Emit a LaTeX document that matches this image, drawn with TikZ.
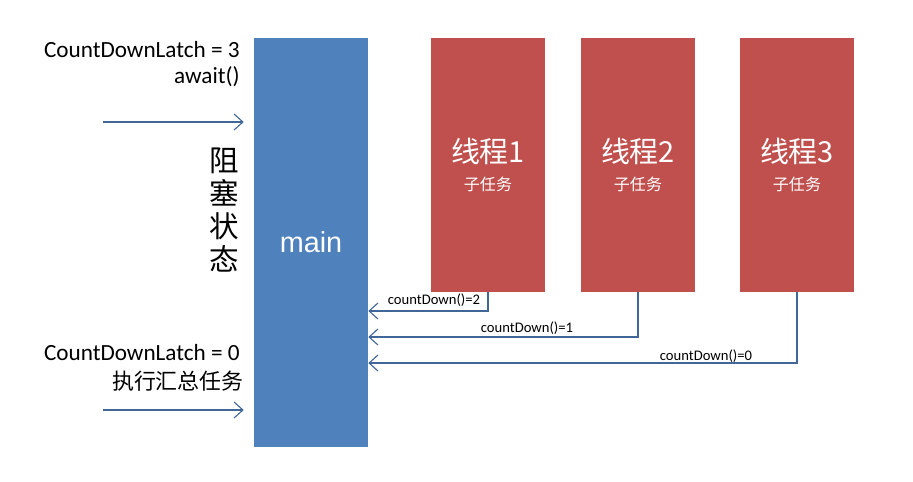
\documentclass[tikz,border=0pt]{standalone}
\usepackage{fontspec}
\setmainfont{Carlito}
\newfontfamily\armfont{Liberation Sans}
\newfontfamily\cjk{Noto Sans CJK SC}
\usepackage{tikz}
\usetikzlibrary{arrows.meta}

\definecolor{mainblue}{HTML}{4F81BD}
\definecolor{threadred}{HTML}{C0504D}
\definecolor{linkblue}{HTML}{41679A}

\begin{document}
\begin{tikzpicture}[
      x=0.025cm, y=-0.025cm,
      mainbox/.style={rectangle, fill=mainblue, text=white, minimum width=2.85cm, minimum height=10.225cm, inner sep=0pt, font=\armfont\fontsize{20.5}{24}\selectfont},
      thread/.style={rectangle, fill=threadred, text=white, align=center, minimum width=2.85cm, minimum height=6.35cm, inner sep=0pt},
      flow/.style={draw=linkblue, line width=0.8pt, -{Straight Barb[length=2.2mm, width=4mm]}},
      note/.style={font=\fontsize{16.5}{19}\selectfont, inner sep=0pt},
      small/.style={font=\fontsize{10.4}{12}\selectfont, inner sep=0pt}
  ]
      \useasboundingbox (0,0) rectangle (913,481);

      % main thread
      \node[mainbox] (main) at (311,242.5) {main};

      % worker threads
      \node[thread] (t1) at (488,165) {{\cjk\fontsize{20.6}{26}\selectfont 线程1}\\[8pt]{\cjk\fontsize{11.4}{14}\selectfont 子任务}};
      \node[thread] (t2) at (638,165) {{\cjk\fontsize{20.6}{26}\selectfont 线程2}\\[8pt]{\cjk\fontsize{11.4}{14}\selectfont 子任务}};
      \node[thread] (t3) at (797,165) {{\cjk\fontsize{20.6}{26}\selectfont 线程3}\\[8pt]{\cjk\fontsize{11.4}{14}\selectfont 子任务}};

      % left side: await and release
      \node[note, anchor=east] (latch3) at (240,50) {CountDownLatch = 3};
      \node[note, anchor=east] (await) at (240,77) {await()};
      \coordinate (in1) at (103,122);
      \draw[flow] (in1) -- ([xshift=-10*0.025cm]main.west |- in1);

      \node[font=\cjk\fontsize{21}{23.5}\selectfont, align=center, inner sep=0pt] (block) at (224,210) {阻\\塞\\状\\态};

      \node[note, anchor=east] (latch0) at (240,353) {CountDownLatch = 0};
      \node[note, anchor=east, font=\cjk\fontsize{15.6}{18}\selectfont] (sum) at (244,381) {执行汇总任务};
      \coordinate (in2) at (103,410);
      \draw[flow] (in2) -- ([xshift=-10*0.025cm]main.west |- in2);

      % countDown calls
      \coordinate (c1) at (0,311);
      \coordinate (c2) at (0,337);
      \coordinate (c3) at (0,363);
      \draw[flow] (t1.south) |- (main.east |- c1);
      \draw[flow] (t2.south) |- (main.east |- c2);
      \draw[flow] (t3.south) |- (main.east |- c3);
      \node[small] (cd2) at (434,300) {countDown()=2};
      \node[small] (cd1) at (527,328) {countDown()=1};
      \node[small] (cd0) at (706,356) {countDown()=0};

  \end{tikzpicture}
\end{document}
